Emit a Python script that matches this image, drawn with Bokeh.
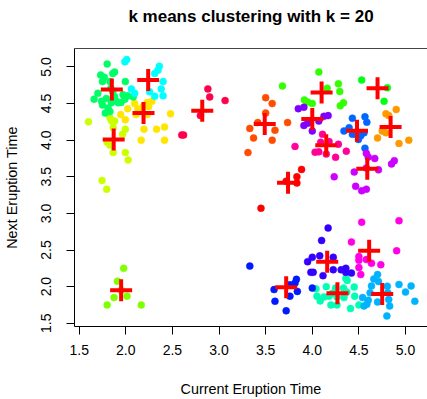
from bokeh.plotting import figure
from bokeh.models import FixedTicker, PrintfTickFormatter, Range1d, LinearAxis
from bokeh.embed import file_html
from bokeh.resources import INLINE

# ---- data ----
title_text = "k means clustering with k = 20"
x_label = "Current Eruption Time"
y_label = "Next Eruption Time"
tick_values = [1.5, 2.0, 2.5, 3.0, 3.5, 4.0, 4.5, 5.0]

# cluster colours (rainbow(20))
cluster_colors = ["#FF0000", "#FF4D00", "#FF9900", "#FFE500", "#CCFF00",
                  "#80FF00", "#33FF00", "#00FF19", "#00FF66", "#00FFB2",
                  "#00FFFF", "#00B3FF", "#0066FF", "#001AFF", "#3300FF",
                  "#7F00FF", "#CC00FF", "#FF00E6", "#FF0099", "#FF004D"]

k00_x = [3.885, 3.835, 3.835, 3.45, 3.72]
k00_y = [3.60, 3.50, 3.415, 3.07, 3.44]
k01_x = [3.50, 3.57, 3.50, 3.415, 3.33, 3.60, 3.37, 3.57, 3.31, 3.735]
k01_y = [4.58, 4.50, 4.37, 4.24, 4.16, 4.135, 4.03, 4.00, 3.83, 4.24]
k02_x = [4.79, 4.82, 4.90, 4.75, 4.79, 4.70, 4.93, 5.035]
k02_y = [4.36, 4.335, 4.42, 4.125, 4.10, 4.03, 3.955, 4.00]
k03_x = [2.095, 2.02, 1.945, 1.995, 2.13, 2.185, 2.23, 2.28, 2.245, 2.11, 2.23,
         2.48, 2.195, 2.33, 2.415, 2.165, 2.415]
k03_y = [4.50, 4.43, 4.35, 4.28, 4.425, 4.46, 4.515, 4.53, 4.46, 4.35, 4.35,
         4.36, 4.15, 4.15, 4.18, 4.00, 4.00]
k04_x = [1.60, 1.83, 1.845, 1.865, 1.88, 1.865, 1.995, 1.965, 1.80, 1.83, 1.865,
         1.995, 2.025, 1.745, 1.795]
k04_y = [4.25, 4.305, 4.27, 4.245, 4.26, 4.17, 4.15, 4.08, 3.97, 3.93, 3.83,
         3.83, 3.73, 3.45, 3.33]
k05_x = [1.977, 1.91, 2.013, 1.874, 1.80, 2.166, 1.95]
k05_y = [2.25, 2.075, 1.87, 1.85, 1.75, 1.75, 1.95]
k06_x = [4.07, 3.68, 4.16, 4.28, 4.295, 3.915, 3.95, 4.00, 4.30, 4.335]
k06_y = [4.93, 4.74, 4.71, 4.77, 4.665, 4.55, 4.52, 4.50, 4.47, 4.51]
k07_x = [4.53, 4.805, 4.77]
k07_y = [4.82, 4.715, 4.53]
k08_x = [1.80, 1.73, 1.77, 1.86, 1.88, 1.75, 1.83, 1.995, 1.70, 1.66, 1.74, 1.79,
         1.88, 1.97, 1.99, 1.92, 1.95, 1.75, 1.81, 1.78, 1.83, 2.08, 2.02, 1.84,
         1.86, 1.90, 1.845]
k08_y = [5.04, 4.89, 4.86, 4.91, 4.93, 4.80, 4.80, 4.80, 4.64, 4.56, 4.53, 4.57,
         4.595, 4.62, 4.56, 4.51, 4.515, 4.48, 4.44, 4.37, 4.39, 4.59, 4.605, 4.71,
         4.66, 4.53, 4.51]
k09_x = [4.04, 4.15, 4.05, 4.085, 4.125, 4.18, 4.20, 4.265, 4.25, 4.335, 4.36,
         4.375, 4.45, 4.455, 4.265, 4.34, 4.41, 4.50, 4.37, 4.215]
k09_y = [1.97, 2.00, 1.87, 1.805, 1.86, 1.87, 1.75, 1.75, 1.98, 1.98, 2.115,
         2.085, 1.995, 1.87, 1.86, 1.85, 1.70, 1.75, 1.925, 1.91]
k10_x = [1.99, 2.01, 2.36, 2.345, 2.31, 2.40, 2.06, 2.095, 2.38, 2.255, 2.31, 2.40]
k10_y = [5.07, 5.10, 5.01, 4.955, 4.91, 4.80, 4.70, 4.64, 4.70, 4.66, 4.60, 4.605]
k11_x = [4.70, 4.66, 4.71, 4.635, 4.62, 4.54, 4.60, 4.585, 4.555, 4.805, 4.81,
         4.82, 4.83, 4.80, 4.93, 5.00, 5.06, 5.10, 4.70]
k11_y = [2.165, 2.105, 2.07, 2.01, 1.915, 1.85, 1.815, 1.76, 1.735, 2.005, 1.915,
         1.825, 1.735, 1.60, 2.03, 1.925, 2.01, 1.80, 1.79]
k12_x = [4.43, 4.565, 4.585, 4.34, 4.395, 4.465, 4.52, 4.555, 4.495, 4.565, 4.43]
k12_y = [4.30, 4.32, 4.245, 4.125, 4.17, 4.08, 4.06, 4.10, 4.01, 3.89, 4.08]
k13_x = [3.33, 3.83, 3.815, 3.84, 3.59, 3.60, 3.72, 3.76, 3.76, 4.00]
k13_y = [2.28, 2.10, 2.05, 1.935, 1.96, 1.80, 1.67, 1.87, 2.025, 1.98]
k14_x = [4.17, 4.10, 3.95, 4.00, 4.08, 4.225, 3.985, 4.01, 4.115, 4.225, 4.31,
         4.36, 4.36, 4.42]
k14_y = [2.80, 2.63, 2.34, 2.40, 2.42, 2.40, 2.195, 2.195, 2.15, 2.23, 2.23,
         2.25, 2.195, 2.185]
k15_x = [3.85, 3.91, 4.125, 4.17, 3.95, 3.91, 4.00, 4.07]
k15_y = [4.43, 4.45, 4.325, 4.335, 4.23, 4.20, 4.125, 4.26]
k16_x = [4.58, 4.60, 4.67, 4.45, 4.71, 4.88, 4.85, 4.465, 4.53, 4.58, 4.235, 4.58]
k16_y = [3.82, 3.77, 3.75, 3.565, 3.595, 3.72, 3.675, 3.37, 3.31, 3.33, 3.50, 3.62]
k17_x = [4.53, 4.93, 4.42, 4.905, 4.50, 4.50, 4.58, 4.635, 4.735, 4.50, 4.52]
k17_y = [2.88, 2.90, 2.61, 2.49, 2.41, 2.36, 2.37, 2.32, 2.30, 2.26, 2.165]
k18_x = [4.11, 4.09, 3.815, 4.03, 4.07, 4.15, 4.25, 4.28, 4.365, 4.18]
k18_y = [4.08, 3.97, 3.915, 3.835, 3.84, 3.81, 3.765, 3.945, 3.85, 3.98]
k19_x = [2.88, 2.90, 3.065, 2.80, 2.62, 2.60]
k19_y = [4.70, 4.59, 4.54, 4.335, 4.07, 4.07]

cluster_x = [k00_x, k01_x, k02_x, k03_x, k04_x, k05_x, k06_x, k07_x, k08_x, k09_x,
             k10_x, k11_x, k12_x, k13_x, k14_x, k15_x, k16_x, k17_x, k18_x, k19_x]
cluster_y = [k00_y, k01_y, k02_y, k03_y, k04_y, k05_y, k06_y, k07_y, k08_y, k09_y,
             k10_y, k11_y, k12_y, k13_y, k14_y, k15_y, k16_y, k17_y, k18_y, k19_y]

center_x = [3.74, 3.49, 4.84, 2.19, 1.87, 1.95, 4.10, 4.70, 1.85, 4.27,
            2.24, 4.75, 4.48, 3.72, 4.16, 4.00, 4.59, 4.61, 4.15, 2.82]
center_y = [3.42, 4.22, 4.18, 4.37, 4.01, 1.95, 4.65, 4.71, 4.69, 1.91,
            4.82, 1.90, 4.13, 1.99, 2.34, 4.29, 3.61, 2.49, 3.93, 4.40]

FONT = "Liberation Sans"
X0, X1 = 1.4497, 5.2358
Y0, Y1 = 1.4556, 5.2515

p = figure(width=427, height=399, output_backend="svg", toolbar_location=None,
           x_range=Range1d(X0, X1), y_range=Range1d(Y0, Y1),
           min_border_left=73, min_border_right=0, min_border_top=48,
           min_border_bottom=69, background_fill_color="white",
           border_fill_color="white", title=None)
p.grid.visible = False
p.outline_line_color = None

for ax in (p.xaxis[0], p.yaxis[0]):
    ax.ticker = FixedTicker(ticks=tick_values)
    ax.formatter = PrintfTickFormatter(format="%.1f")
    ax.major_tick_in = 0
    ax.major_tick_out = 8
    ax.minor_tick_line_color = None
    ax.axis_line_color = "black"
    ax.major_tick_line_color = "black"
    ax.major_label_text_font = FONT
    ax.major_label_text_font_size = "14px"
    ax.major_label_text_color = "black"
    ax.axis_label_text_font = FONT
    ax.axis_label_text_font_size = "14.4px"
    ax.axis_label_text_font_style = "normal"
    ax.axis_label_text_color = "black"

p.xaxis[0].axis_label = x_label
p.xaxis[0].major_label_standoff = 10
p.xaxis[0].axis_label_standoff = 23
p.yaxis[0].axis_label = y_label
p.yaxis[0].major_label_orientation = "vertical"
p.yaxis[0].major_label_standoff = 15
p.yaxis[0].axis_label_standoff = 19

# top edge of the box, carrying the chart title as its label
top = LinearAxis(ticker=FixedTicker(ticks=[]), axis_label=title_text,
                 major_tick_in=0, major_tick_out=0, major_label_standoff=0,
                 major_label_text_font_size="0px", minor_tick_line_color=None,
                 major_tick_line_color=None, axis_line_color="#444444",
                 axis_label_standoff=23, axis_label_text_font=FONT,
                 axis_label_text_font_size="17px",
                 axis_label_text_font_style="bold",
                 axis_label_text_color="black")
p.add_layout(top, "above")

for xs, ys, col in zip(cluster_x, cluster_y, cluster_colors):
    p.scatter(xs, ys, size=7, fill_color=col, line_color=col, line_width=0.5)

p.scatter(center_x, center_y, marker="cross", size=22, line_color="#FF0000",
          line_width=4)

open("out.html", "w").write(file_html(p, INLINE))
